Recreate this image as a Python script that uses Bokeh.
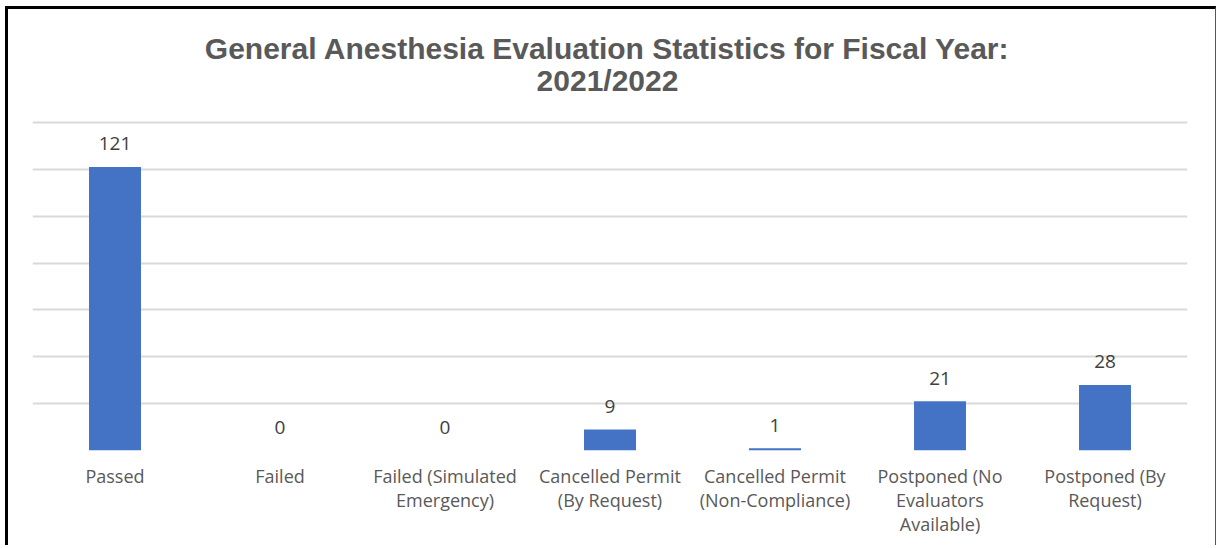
from bokeh.plotting import figure
from bokeh.models import ColumnDataSource, FactorRange, Range1d, FixedTicker, Label, LabelSet
from bokeh.core.properties import value
from bokeh.embed import file_html
from bokeh.resources import INLINE

categories = ["Passed", "Failed", "Failed (Simulated\nEmergency)", "Cancelled Permit\n(By Request)",
              "Cancelled Permit\n(Non-Compliance)", "Postponed (No\nEvaluators\nAvailable)",
              "Postponed (By\nRequest)"]
counts = [121, 0, 0, 9, 1, 21, 28]
grid_ticks = [0, 20, 40, 60, 80, 100, 120, 140]
title_lines = ["General Anesthesia Evaluation Statistics for Fiscal Year:", "2021/2022"]

src = ColumnDataSource(data=dict(cat=categories, val=counts, lab=[str(v) for v in counts]))

p = figure(width=1211, height=539, output_backend="svg", toolbar_location=None,
           x_range=FactorRange(*categories, range_padding=0), y_range=Range1d(0, 188.2),
           min_border_left=24, min_border_right=32, min_border_top=0, min_border_bottom=98)
p.styles = {"margin-left": "5px", "margin-top": "6px", "border-left": "3px solid black",
            "border-top": "3px solid black", "border-right": "1px solid #555555"}
p.outline_line_color = None
p.background_fill_color = "white"
p.border_fill_color = "white"

p.vbar(x="cat", top="val", width=0.315, source=src, fill_color="#4472C4", line_color=None)

labels = LabelSet(x="cat", y="val", text="lab", source=src, text_align="center",
                  text_baseline="middle", y_offset=23, text_font=value("Open Sans"),
                  text_font_size="19px", text_color="#404040")
p.add_layout(labels)

p.xgrid.grid_line_color = None
p.ygrid.ticker = FixedTicker(ticks=grid_ticks)
p.ygrid.grid_line_color = "#D9D9D9"
p.ygrid.grid_line_width = 2
p.yaxis.visible = False

xa = p.xaxis[0]
xa.axis_line_color = None
xa.major_tick_line_color = None
xa.major_tick_out = 0
xa.major_label_standoff = 13
xa.major_label_text_font = "Open Sans"
xa.major_label_text_font_size = "18px"
xa.major_label_text_color = "#595959"
xa.major_label_text_line_height = 1.0

for i, line in enumerate(title_lines):
    p.add_layout(Label(x=575, y=402 - 32 * i, x_units="screen", y_units="screen", text=line,
                       text_align="center", text_baseline="middle",
                       text_font="Liberation Sans", text_font_style="bold",
                       text_font_size="30px", text_color="#595959"))

open("out.html", "w").write(file_html(p, INLINE))
